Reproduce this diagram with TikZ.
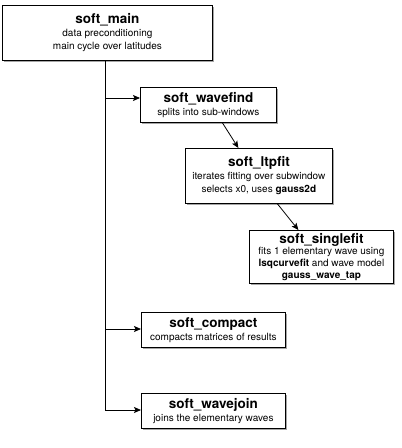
\documentclass[tikz,border=0pt]{standalone}
\usepackage{fontspec}
\setmainfont{TeX Gyre Heros}
\usetikzlibrary{arrows.meta,shadows,calc}
\begin{document}
\begin{tikzpicture}[x=1pt,y=-1pt,
  box/.style={draw=black, line width=0.8pt, fill=white, anchor=north west,
    align=center, inner sep=0pt, font=\fontsize{10}{13}\selectfont,
    drop shadow={shadow xshift=2pt, shadow yshift=-2pt, opacity=0.35, fill=black}},
  conn/.style={line width=0.8pt, -{Stealth[length=7pt,width=6pt,inset=1.5pt]}},
  trunk/.style={line width=0.8pt}]
\useasboundingbox (0,0) rectangle (402,448);
\newcommand{\ttl}[1]{{\fontsize{13.5}{13}\selectfont\bfseries #1}}
\node[box, minimum width=210pt, minimum height=55pt] (main) at (2,5)
  {\ttl{soft\_main}\\data preconditioning\\main cycle over latitudes};
\node[box, minimum width=136pt, minimum height=35pt] (wavefind) at (140,87)
  {\ttl{soft\_wavefind}\\splits into sub-windows};
\node[box, minimum width=147pt, minimum height=55pt] (ltpfit) at (185,148)
  {\ttl{soft\_ltpfit}\\iterates fitting over subwindow\\selects x0, uses \textbf{gauss2d}};
\node[box, minimum width=144pt, minimum height=53pt, font=\fontsize{10}{11.8}\selectfont] (singlefit) at (249,230)
  {{\fontsize{13.5}{12}\selectfont\bfseries soft\_singlefit}\\fits 1 elementary wave using\\\textbf{lsqcurvefit} and wave model\\\textbf{gauss\_wave\_tap}};
\node[box, minimum width=144pt, minimum height=35pt] (compact) at (141,312)
  {\ttl{soft\_compact}\\compacts matrices of results};
\node[box, minimum width=144pt, minimum height=35pt] (wavejoin) at (141,393)
  {\ttl{soft\_wavejoin}\\joins the elementary waves};
\coordinate (t0) at (105,60);
\coordinate (t1) at (105,98);
\coordinate (t2) at (105,329);
\coordinate (t3) at (105,410);
\draw[trunk] (t0) -- (t3);
\draw[conn] (t1) -- (t1 -| wavefind.west);
\draw[conn] (t2) -- (t2 -| compact.west);
\draw[conn] (t3) -- (t3 -| wavejoin.west);
\draw[conn] ([xshift=14pt]wavefind.south) -- ([xshift=-20.5pt]ltpfit.north);
\draw[conn] ([xshift=18.5pt]ltpfit.south) -- ([xshift=-23pt]singlefit.north);
\end{tikzpicture}
\end{document}
